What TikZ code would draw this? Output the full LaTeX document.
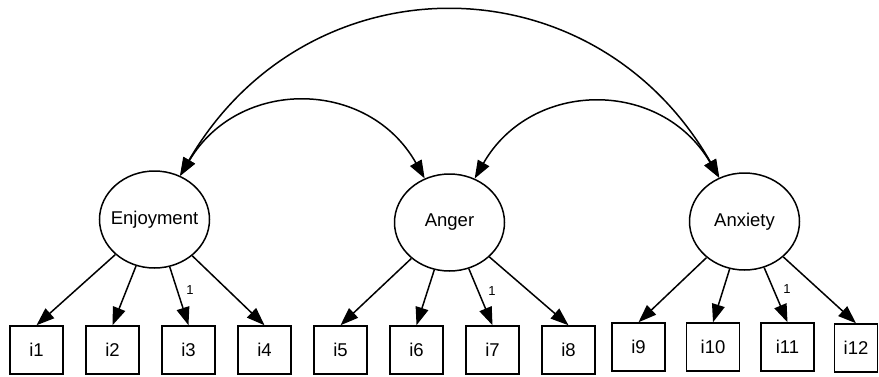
\documentclass[tikz,border=0pt]{standalone}
\usepackage{fontspec}
\setmainfont{Liberation Sans}
\usepackage{tikz}
\usetikzlibrary{arrows.meta,shapes.geometric}

\begin{document}
\begin{tikzpicture}[x=1pt,y=-1pt,->,>={Triangle[length=18pt,width=13pt]},line width=1.5pt,auto,node distance=76pt,
    font=\fontsize{18.5}{20}\selectfont]

    \tikzstyle{latent}=[ellipse,draw=black,fill=white,minimum width=110pt,minimum height=97pt,inner xsep=-8pt,inner ysep=0pt]
    \tikzstyle{item}=[rectangle,draw=black,fill=white,minimum width=53pt,minimum height=48pt,inner sep=0pt]
    \tikzstyle{cov}=[<->,bend left=60,looseness=1.2]
    \tikzstyle{fixed}=[font=\fontsize{13}{15}\selectfont,pos=0.58,inner sep=5pt]

    \useasboundingbox (0,0) rectangle (879,376);

    \node[latent] (enj) at (154.5,219.5) {Enjoyment};
    \node[latent] (ang) at (449.5,222.5) {Anger};
    \node[latent] (anx) at (744.5,221.5) {Anxiety};

    \node[item] (i1) at (36.5,350) {i1};
    \node[item] (i2) [right of=i1] {i2};
    \node[item] (i3) [right of=i2] {i3};
    \node[item] (i4) [right of=i3] {i4};
    \node[item] (i5) [right of=i4] {i5};
    \node[item] (i6) [right of=i5] {i6};
    \node[item] (i7) [right of=i6] {i7};
    \node[item] (i8) [right of=i7] {i8};
    \node[item] (i9) at (638.5,347) {i9};
    \node[item] (i10) [right of=i9,node distance=74.5pt] {i10};
    \node[item] (i11) [right of=i10,node distance=74.5pt] {i11};
    \node[item,minimum width=43pt] (i12) at (856,348) {i12};

    \path (enj) edge (i1.north)
                edge (i2.north)
                edge node[fixed] {1} (i3.north)
                edge (i4.north)
          (ang) edge (i5.north)
                edge (i6.north)
                edge node[fixed] {1} (i7.north)
                edge (i8.north)
          (anx) edge (i9.north)
                edge (i10.north)
                edge node[fixed] {1} (i11.north)
                edge (i12.north)
    ;

    % covariances
    \path (enj) edge[cov] (ang)
          (ang) edge[cov] (anx)
          (enj) edge[cov] (anx)
    ;
\end{tikzpicture}
\end{document}
